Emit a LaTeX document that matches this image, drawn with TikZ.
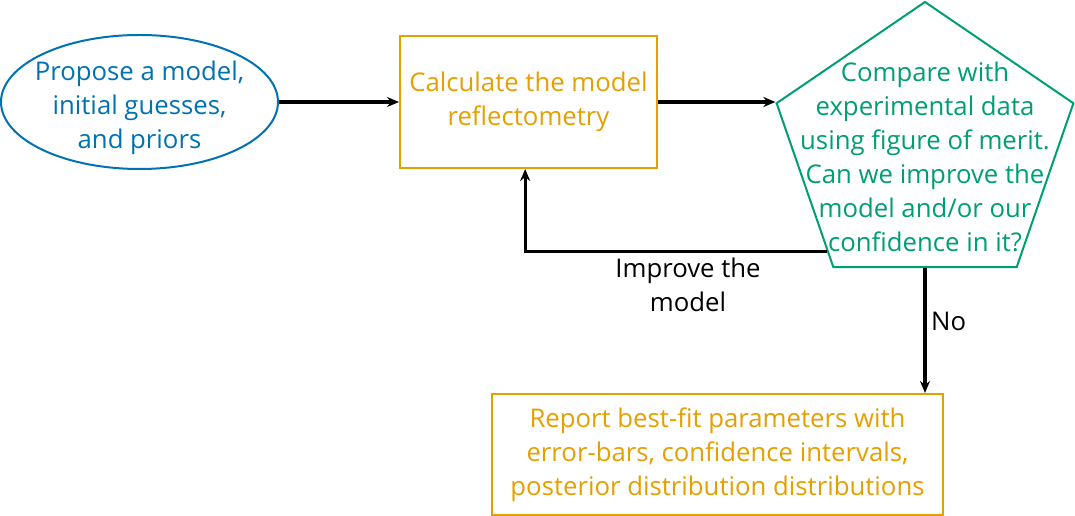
\documentclass[tikz,border=0pt]{standalone}
\usepackage{fontspec}
\setmainfont{Open Sans}
\usepackage{xcolor}
\usepackage{tikz}
\usetikzlibrary{arrows.meta,positioning,shapes.geometric,calc}

\definecolor{cbblue}{HTML}{0072B2}
\definecolor{cborange}{HTML}{E69F00}
\definecolor{cbgreen}{HTML}{009E73}

\begin{document}
\begin{tikzpicture}[
  x=0.75pt, y=-0.75pt,
  font=\fontsize{19.3}{25.5}\selectfont,
  startbox/.style={
    draw=cbblue,
    text=cbblue,
    ellipse,
    line width=1.5pt,
    align=center,
    inner sep=-10pt,
    minimum width=207.75pt,
    minimum height=100.5pt
  },
  procbox/.style={
    draw=cborange,
    text=cborange,
    line width=1.5pt,
    align=center
  },
  decbox/.style={
    draw=cbgreen,
    line width=1.5pt,
    regular polygon,
    regular polygon sides=5,
    minimum size=219.75pt,
    inner sep=0pt
  },
  dectext/.style={text=cbgreen, align=center},
  arrow/.style={-{Stealth[length=9pt,width=7.5pt]},line width=2.5pt}
]
  \useasboundingbox (0,0) rectangle (1075,516);

  \node[startbox] (prop) at (139.5,102) {\rule{0pt}{23.5pt}Propose a model,\\initial guesses,\\and priors};
  \node[procbox,right=90pt of prop,minimum width=192.75pt,minimum height=99pt] (calc) {Calculate the model\\reflectometry};
  \begin{scope}[shift={(925,148.5)},xscale=1.065]
    \node[decbox,transform shape] (cmp) at (0,0) {};
  \end{scope}
  \node[dectext] (cmptxt) at ([yshift=-6pt]cmp.center) {Compare with\\experimental data\\using figure of merit.\\Can we improve the\\model and/or our\\confidence in it?};
  \node[procbox,minimum width=338.25pt,minimum height=90.75pt] (report) at (717.5,454.5) {Report best-fit parameters with\\error-bars, confidence intervals,\\posterior distribution distributions};

  \draw[arrow] (prop) -- (calc);
  \draw[arrow] (calc.east) -- (calc.east -| cmp.corner 2);
  \draw[arrow] ($(cmp.corner 2)!0.9!(cmp.corner 3)$) -| node[below,pos=0.23,align=center] {Improve the\\model} ([xshift=-2.5pt]calc.south);
  \draw[arrow] (cmp.south) -- node[right,pos=0.43] {No} (cmp.south |- report.north);
\end{tikzpicture}
\end{document}
